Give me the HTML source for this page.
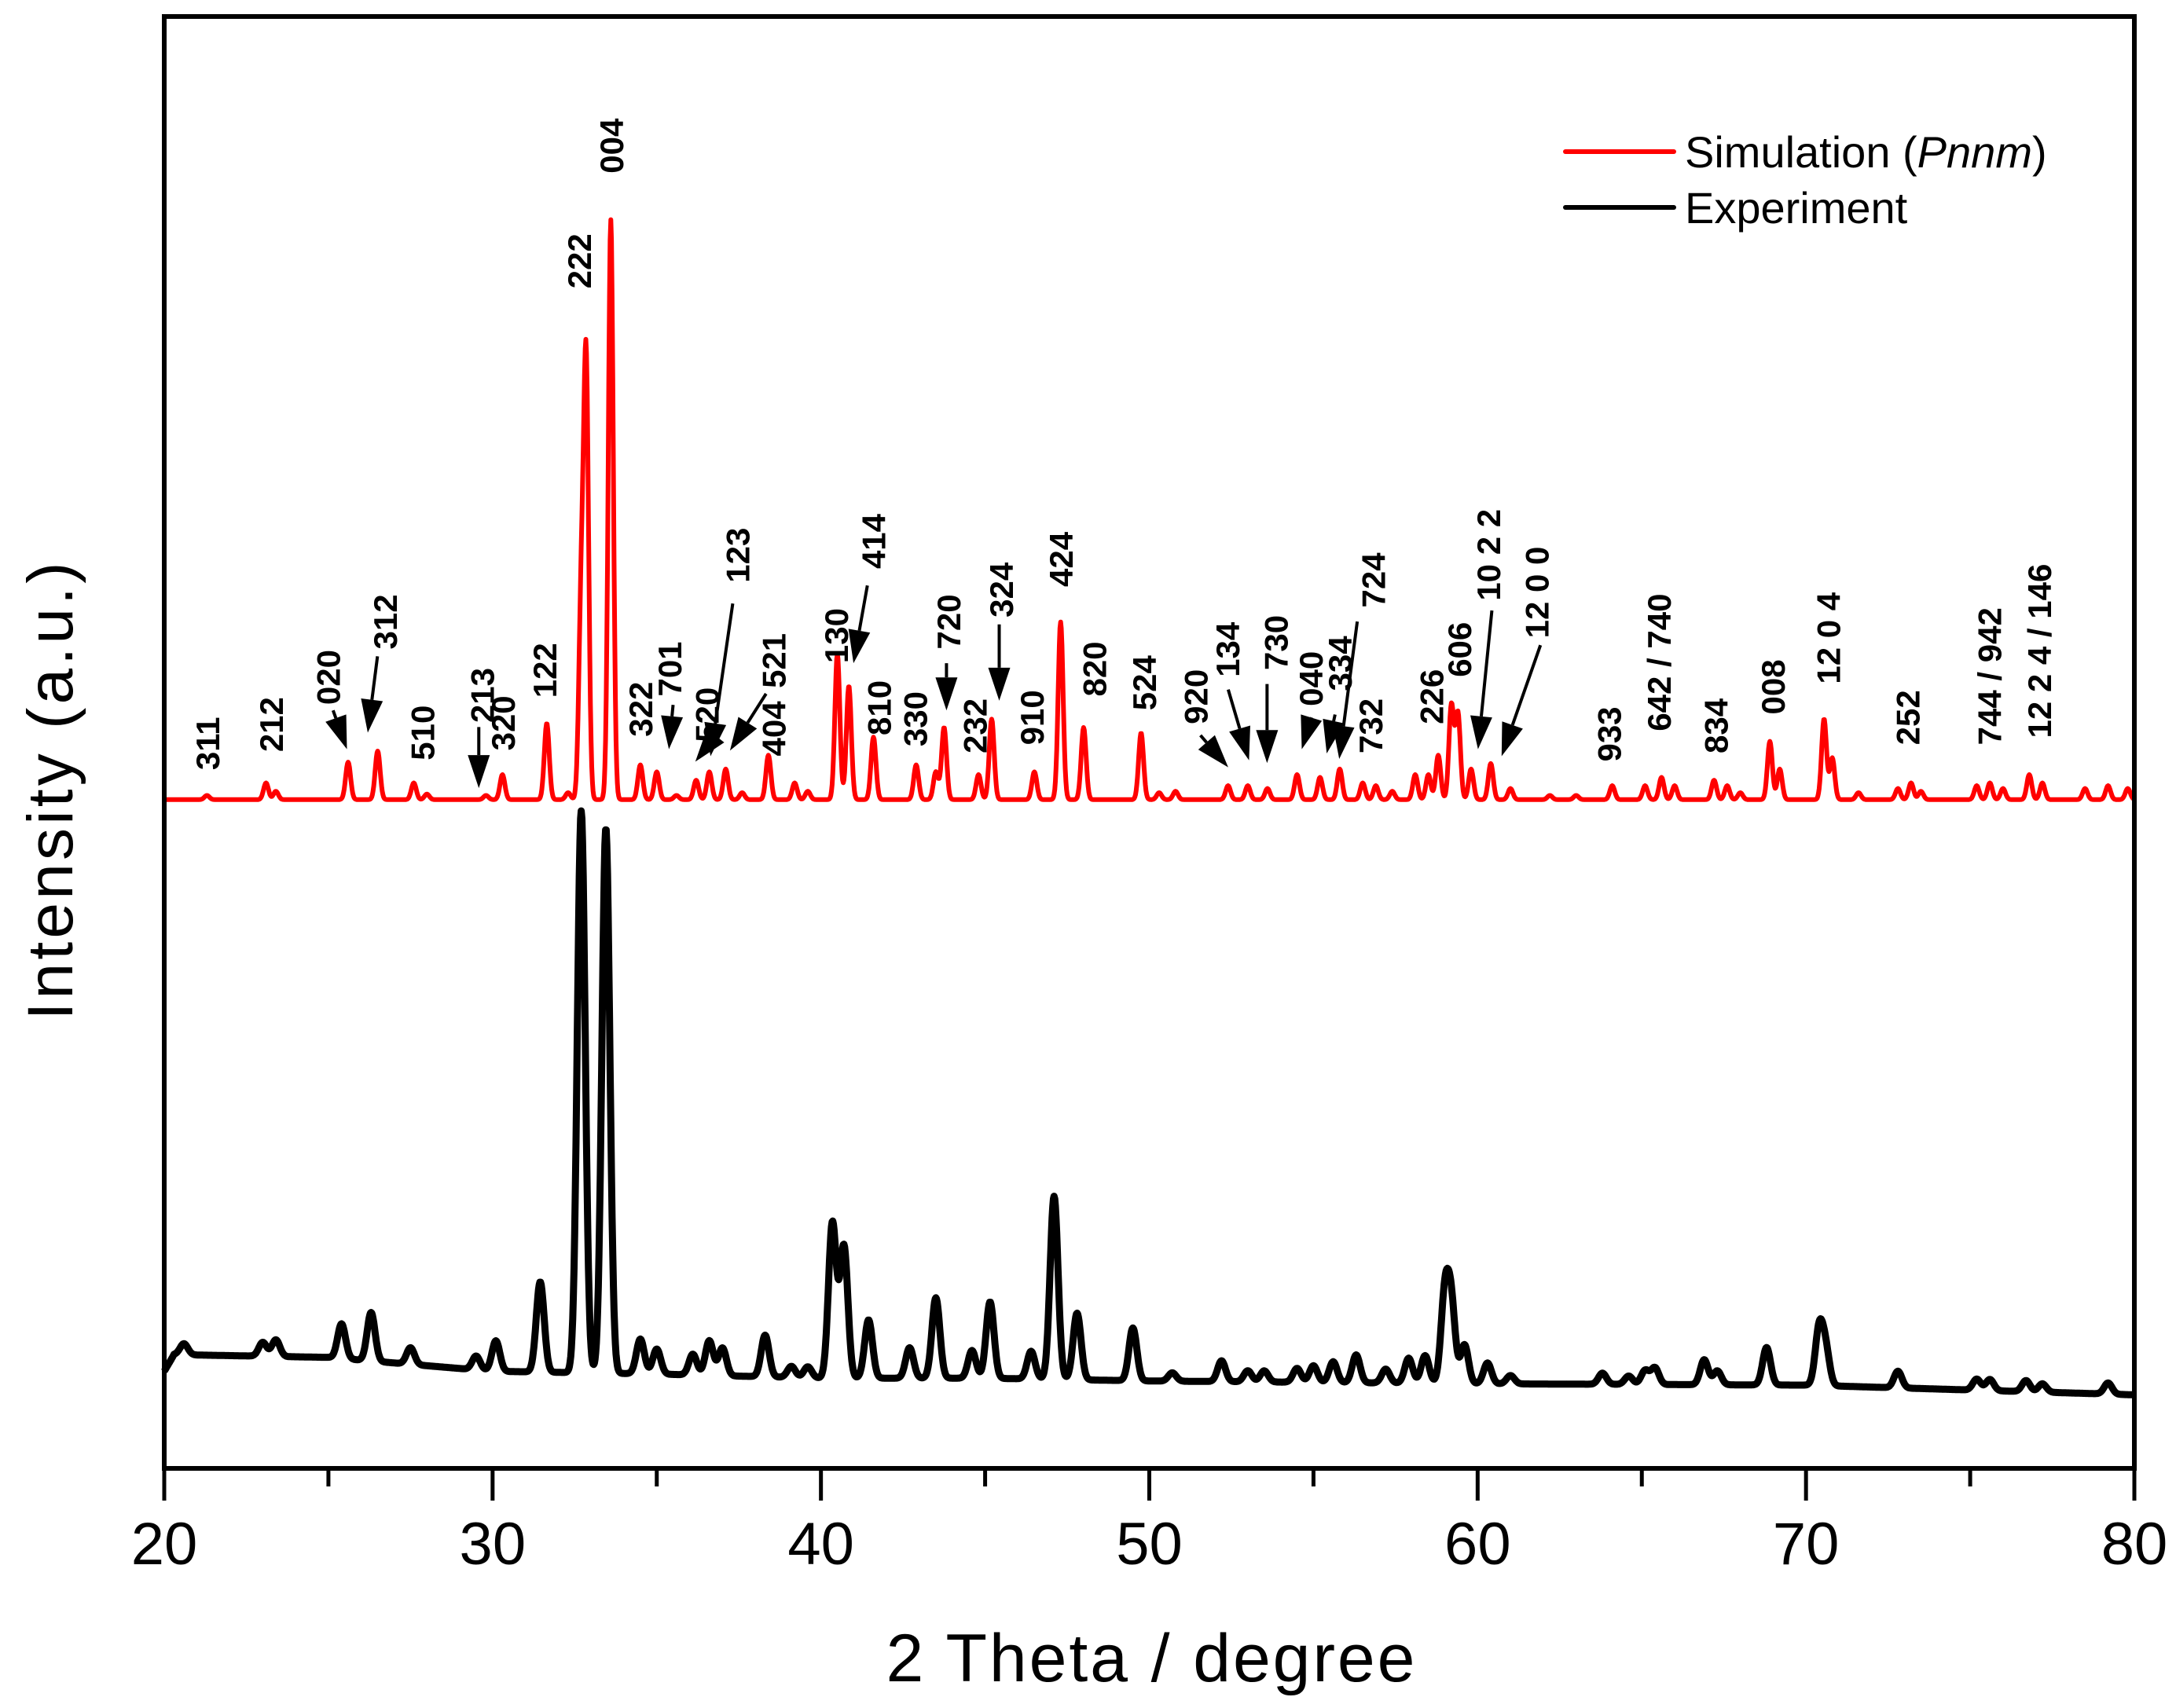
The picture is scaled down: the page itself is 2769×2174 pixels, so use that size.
<!DOCTYPE html>
<html><head><meta charset="utf-8">
<style>
html,body{margin:0;padding:0;background:#fff;}
svg{display:block;font-family:"Liberation Sans",Arial,sans-serif;}
</style></head>
<body>
<svg id="chart" width="2769" height="2174" viewBox="0 0 2769 2174" xmlns="http://www.w3.org/2000/svg">
<rect x="0" y="0" width="2769" height="2174" fill="#fff"/>
<g id="series"></g>
<g id="annot"></g>
<rect x="209" y="21" width="2507" height="1848" fill="none" stroke="#000" stroke-width="6"/>
<g id="axis"></g>
<text x="1464" y="2140" font-size="86" text-anchor="middle" textLength="673">2 Theta / degree</text>
<text transform="translate(92,1007) rotate(-90)" font-size="82" text-anchor="middle" textLength="583">Intensity (a.u.)</text>
<g>
<line x1="1992" y1="193" x2="2130" y2="193" stroke="#f00" stroke-width="6" stroke-linecap="round"/>
<text x="2144" y="213" font-size="56">Simulation (<tspan font-style="italic">Pnnm</tspan>)</text>
<line x1="1992" y1="264" x2="2130" y2="264" stroke="#000" stroke-width="6" stroke-linecap="round"/>
<text x="2144" y="284" font-size="56">Experiment</text>
</g>
</svg>
<script>
// ---- data (2θ in degrees, intensity in a.u.) ----
const simBase = 482;
const simPos = [21.3,23.1,23.4,25.6,26.5,27.6,28.0,29.8,30.3,31.65,32.3,32.7,32.85,33.6,34.5,35.0,35.6,36.2,36.6,37.1,37.6,38.4,39.2,39.6,40.5,40.85,41.6,42.9,43.5,43.75,44.8,45.2,46.5,47.3,48.0,49.75,50.3,50.8,52.4,53.0,53.6,54.5,55.2,55.8,56.5,56.9,57.4,58.1,58.5,58.8,59.2,59.4,59.8,60.4,61.0,62.2,63.0,64.1,65.1,65.6,66.0,67.2,67.6,68.0,68.9,69.2,70.55,70.8,71.6,72.8,73.2,73.5,75.2,75.6,76.0,76.8,77.2,78.5,79.2,79.8];
const simH = [3,12,6,27,35,12,4,3,18,55,5,140,310,418,25,20,3,14,20,22,5,32,12,6,105,82,45,25,20,52,18,58,20,128,52,48,5,6,10,10,8,18,16,22,12,10,6,18,18,32,68,62,22,26,8,3,3,10,10,16,10,14,10,5,42,22,58,30,5,8,12,6,10,12,8,18,12,8,10,8];
const expBaseX = [20,20.3,25,28,30,35,40,45,50,60,70,80];
const expBaseI = [70,82,80,74,70,68,65,65,63,61,60,53];
const expPos = [20.6,23.0,23.4,25.4,26.3,27.5,29.5,30.1,31.45,32.7,33.45,34.5,35.0,36.1,36.6,37.0,38.3,39.1,39.6,40.35,40.7,41.45,42.7,43.5,44.6,45.15,46.4,47.1,47.8,49.5,50.7,52.2,53.0,53.5,54.5,55.0,55.6,56.3,57.2,57.9,58.4,59.0,59.2,59.6,60.3,61.0,63.8,64.6,65.1,65.4,66.9,67.3,68.8,70.4,70.6,72.8,75.2,75.6,76.7,77.2,79.2];
const expH = [8,10,12,25,35,12,10,22,65,405,393,25,18,15,25,20,30,8,8,112,95,42,22,58,20,55,20,132,48,38,6,15,8,8,10,12,15,20,10,18,20,62,55,28,15,6,8,6,10,12,18,10,27,40,25,12,8,8,8,6,8];
const xTicks = [20,30,40,50,60,70,80];
const xMinor = [25,35,45,55,65,75];
const labTxt = ["311","212","020","312","510","213","320","122","222","004","322","701","520","123","521","404","130","414","810","330","720","232","324","910","424","820","524","920","134","730","040","334","724","732","226","606","10 2 2","12 0 0","933","642 / 740","834","008","12 0 4","252","744 / 942","12 2 4 / 146"];
const labX = [150,196,237,278,305,348,363,393,418,441,462,483,510,532,558,558,603,630,634,660,684,703,722,744,765,789,825,862,885,920,945,966,990,988,1032,1052,1073,1108,1160,1196,1237,1278,1318,1375,1434,1470];
const labY = [555,542,508,468,548,521,541,503,208,125,531,502,535,420,496,545,478,410,530,538,468,543,445,537,423,502,512,522,488,483,509,498,438,543,522,488,433,460,549,527,543,515,493,537,537,532];
const arrows = [[240,512,250,540],[272,473,265,528],[345,524,345,568],[485,508,482,540],[508,540,501,549],[528,435,512,545],[552,500,526,541],[625,422,615,478],[682,478,682,512],[720,450,720,505],[865,530,885,553],[885,497,900,548],[913,493,913,550],[945,517,938,540],[962,515,956,543],[978,448,965,547],[1075,440,1065,540],[1110,465,1082,545]];

// ---- scales ----
const S = 1.766;
const X = t => 209 + (t - 20) * (2716 - 209) / 60;
const Y = i => 1869 - i * S;
const NS = "http://www.w3.org/2000/svg";
function mk(tag, parent) { const e = document.createElementNS(NS, tag); parent.appendChild(e); return e; }
function interp(xs, ys, t) {
  for (let k = 0; k < xs.length - 1; k++) if (t <= xs[k+1]) return ys[k] + (ys[k+1]-ys[k])*(t-xs[k])/(xs[k+1]-xs[k]);
  return ys[ys.length-1];
}
function curve(pos, h, sig, baseFn) {
  let d = "";
  for (let t = 20; t <= 80.0001; t += 0.02) {
    let v = baseFn(t);
    for (let k = 0; k < pos.length; k++) { const z = (t - pos[k]) / sig; if (Math.abs(z) < 6) v += h[k] * Math.exp(-0.5*z*z); }
    d += (d ? "L" : "M") + X(t).toFixed(1) + "," + Y(v).toFixed(1);
  }
  return d;
}
const ser = document.getElementById("series");
const pe = mk("path", ser);


pe.setAttribute("d", curve(expPos, expH, 0.12, t => interp(expBaseX, expBaseI, t)));
pe.setAttribute("fill", "none"); pe.setAttribute("stroke", "#000"); pe.setAttribute("stroke-width", "9"); pe.setAttribute("stroke-linejoin", "round");
const ps = mk("path", ser);


ps.setAttribute("d", curve(simPos, simH, 0.075, t => simBase));
ps.setAttribute("fill", "none"); ps.setAttribute("stroke", "#f00"); ps.setAttribute("stroke-width", "6"); ps.setAttribute("stroke-linejoin", "round");

// ---- axis ----
const ax = document.getElementById("axis");
xTicks.forEach(t => {
  const l = mk("line", ax);
  
  
  l.setAttribute("x1", X(t)); l.setAttribute("x2", X(t)); l.setAttribute("y1", 1869); l.setAttribute("y2", 1910);
  l.setAttribute("stroke", "#000"); l.setAttribute("stroke-width", "5");
  const tx = mk("text", ax);
  
  
  tx.setAttribute("x", X(t)); tx.setAttribute("y", 1991); tx.setAttribute("font-size", "76"); tx.setAttribute("text-anchor", "middle");
  tx.textContent = t;
});
xMinor.forEach(t => {
  const l = mk("line", ax);
  
  
  l.setAttribute("x1", X(t)); l.setAttribute("x2", X(t)); l.setAttribute("y1", 1869); l.setAttribute("y2", 1892);
  l.setAttribute("stroke", "#000"); l.setAttribute("stroke-width", "5");
});

// ---- annotations ----
const an = document.getElementById("annot");
labTxt.forEach((s, k) => {
  const tx = mk("text", an);
  
  
  tx.setAttribute("transform", "translate(" + (labX[k]*S + 14) + "," + (labY[k]*S) + ") rotate(-90)");
  tx.setAttribute("font-size", "42"); tx.setAttribute("font-weight", "bold");
  tx.textContent = s;
});
arrows.forEach(a => {
  const x1 = a[0]*S, y1 = a[1]*S, x2 = a[2]*S, y2 = a[3]*S;
  const dx = x2-x1, dy = y2-y1, L = Math.hypot(dx, dy), ux = dx/L, uy = dy/L;
  const hl = 42, hw = 14;
  const bx = x2 - ux*hl, by = y2 - uy*hl;
  const l = mk("line", an);
  
  
  l.setAttribute("x1", x1); l.setAttribute("y1", y1); l.setAttribute("x2", bx); l.setAttribute("y2", by);
  l.setAttribute("stroke", "#000"); l.setAttribute("stroke-width", "4");
  const p = mk("polygon", an);
  
  
  p.setAttribute("points", x2+","+y2+" "+(bx-uy*hw)+","+(by+ux*hw)+" "+(bx+uy*hw)+","+(by-ux*hw));
  p.setAttribute("fill", "#000");
});
</script>
</body></html>
